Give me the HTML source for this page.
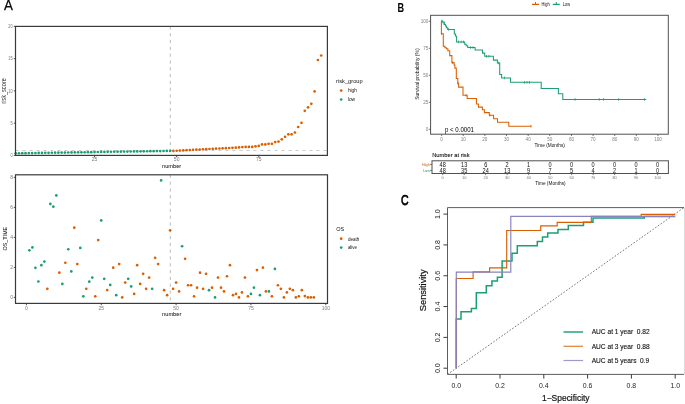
<!DOCTYPE html>
<html><head><meta charset="utf-8"><style>
html,body{margin:0;padding:0;background:#fff;width:685px;height:404px;overflow:hidden}
svg{display:block;font-family:"Liberation Sans", sans-serif;will-change:transform;filter:blur(0.35px)}
</style></head><body>
<svg width="685" height="404" viewBox="0 0 685 404">
<rect x="0" y="0" width="685" height="404" fill="#fff"/>
<text x="4.1" y="9.7" font-size="14.2" text-anchor="start" fill="#000" font-weight="normal" textLength="8.9" lengthAdjust="spacingAndGlyphs" stroke="#000" stroke-width="0.25">A</text>
<line x1="15.5" y1="150.5" x2="327.4" y2="150.5" stroke="#c4c4c4" stroke-width="0.9" stroke-dasharray="3,4"/>
<line x1="170.3" y1="26.4" x2="170.3" y2="155.4" stroke="#b4b4b4" stroke-width="0.9" stroke-dasharray="3.2,3.6"/>
<circle cx="15.69" cy="153.3" r="1.35" fill="#1B9E77"/>
<circle cx="18.97" cy="153.25" r="1.35" fill="#1B9E77"/>
<circle cx="22.26" cy="153.2" r="1.35" fill="#1B9E77"/>
<circle cx="25.54" cy="153.15" r="1.35" fill="#1B9E77"/>
<circle cx="28.83" cy="153.1" r="1.35" fill="#1B9E77"/>
<circle cx="32.11" cy="153.04" r="1.35" fill="#1B9E77"/>
<circle cx="35.4" cy="152.99" r="1.35" fill="#1B9E77"/>
<circle cx="38.68" cy="152.94" r="1.35" fill="#1B9E77"/>
<circle cx="41.97" cy="152.89" r="1.35" fill="#1B9E77"/>
<circle cx="45.25" cy="152.84" r="1.35" fill="#1B9E77"/>
<circle cx="48.54" cy="152.79" r="1.35" fill="#1B9E77"/>
<circle cx="51.82" cy="152.74" r="1.35" fill="#1B9E77"/>
<circle cx="55.1" cy="152.69" r="1.35" fill="#1B9E77"/>
<circle cx="58.39" cy="152.64" r="1.35" fill="#1B9E77"/>
<circle cx="61.68" cy="152.59" r="1.35" fill="#1B9E77"/>
<circle cx="64.96" cy="152.53" r="1.35" fill="#1B9E77"/>
<circle cx="68.25" cy="152.48" r="1.35" fill="#1B9E77"/>
<circle cx="71.53" cy="152.43" r="1.35" fill="#1B9E77"/>
<circle cx="74.82" cy="152.38" r="1.35" fill="#1B9E77"/>
<circle cx="78.1" cy="152.33" r="1.35" fill="#1B9E77"/>
<circle cx="81.39" cy="152.28" r="1.35" fill="#1B9E77"/>
<circle cx="84.67" cy="152.23" r="1.35" fill="#1B9E77"/>
<circle cx="87.96" cy="152.18" r="1.35" fill="#1B9E77"/>
<circle cx="91.24" cy="152.13" r="1.35" fill="#1B9E77"/>
<circle cx="94.53" cy="152.07" r="1.35" fill="#1B9E77"/>
<circle cx="97.81" cy="152.02" r="1.35" fill="#1B9E77"/>
<circle cx="101.1" cy="151.97" r="1.35" fill="#1B9E77"/>
<circle cx="104.38" cy="151.92" r="1.35" fill="#1B9E77"/>
<circle cx="107.67" cy="151.87" r="1.35" fill="#1B9E77"/>
<circle cx="110.95" cy="151.82" r="1.35" fill="#1B9E77"/>
<circle cx="114.24" cy="151.77" r="1.35" fill="#1B9E77"/>
<circle cx="117.52" cy="151.72" r="1.35" fill="#1B9E77"/>
<circle cx="120.81" cy="151.67" r="1.35" fill="#1B9E77"/>
<circle cx="124.09" cy="151.61" r="1.35" fill="#1B9E77"/>
<circle cx="127.38" cy="151.56" r="1.35" fill="#1B9E77"/>
<circle cx="130.66" cy="151.51" r="1.35" fill="#1B9E77"/>
<circle cx="133.94" cy="151.46" r="1.35" fill="#1B9E77"/>
<circle cx="137.23" cy="151.41" r="1.35" fill="#1B9E77"/>
<circle cx="140.52" cy="151.36" r="1.35" fill="#1B9E77"/>
<circle cx="143.8" cy="151.31" r="1.35" fill="#1B9E77"/>
<circle cx="147.09" cy="151.26" r="1.35" fill="#1B9E77"/>
<circle cx="150.37" cy="151.21" r="1.35" fill="#1B9E77"/>
<circle cx="153.66" cy="151.16" r="1.35" fill="#1B9E77"/>
<circle cx="156.94" cy="151.1" r="1.35" fill="#1B9E77"/>
<circle cx="160.23" cy="151.05" r="1.35" fill="#1B9E77"/>
<circle cx="163.51" cy="151" r="1.35" fill="#1B9E77"/>
<circle cx="166.8" cy="150.95" r="1.35" fill="#1B9E77"/>
<circle cx="170.08" cy="150.9" r="1.35" fill="#1B9E77"/>
<circle cx="173.37" cy="150.9" r="1.35" fill="#D95F02"/>
<circle cx="176.65" cy="150.73" r="1.35" fill="#D95F02"/>
<circle cx="179.94" cy="150.56" r="1.35" fill="#D95F02"/>
<circle cx="183.22" cy="150.39" r="1.35" fill="#D95F02"/>
<circle cx="186.51" cy="150.21" r="1.35" fill="#D95F02"/>
<circle cx="189.79" cy="150.04" r="1.35" fill="#D95F02"/>
<circle cx="193.08" cy="149.87" r="1.35" fill="#D95F02"/>
<circle cx="196.36" cy="149.7" r="1.35" fill="#D95F02"/>
<circle cx="199.65" cy="149.53" r="1.35" fill="#D95F02"/>
<circle cx="202.93" cy="149.36" r="1.35" fill="#D95F02"/>
<circle cx="206.22" cy="149.19" r="1.35" fill="#D95F02"/>
<circle cx="209.5" cy="149.01" r="1.35" fill="#D95F02"/>
<circle cx="212.79" cy="148.84" r="1.35" fill="#D95F02"/>
<circle cx="216.07" cy="148.67" r="1.35" fill="#D95F02"/>
<circle cx="219.36" cy="148.5" r="1.35" fill="#D95F02"/>
<circle cx="222.64" cy="148.33" r="1.35" fill="#D95F02"/>
<circle cx="225.93" cy="148.16" r="1.35" fill="#D95F02"/>
<circle cx="229.21" cy="147.99" r="1.35" fill="#D95F02"/>
<circle cx="232.5" cy="147.81" r="1.35" fill="#D95F02"/>
<circle cx="235.78" cy="147.64" r="1.35" fill="#D95F02"/>
<circle cx="239.07" cy="147.47" r="1.35" fill="#D95F02"/>
<circle cx="242.35" cy="147.1" r="1.35" fill="#D95F02"/>
<circle cx="245.64" cy="146.9" r="1.35" fill="#D95F02"/>
<circle cx="248.92" cy="146.9" r="1.35" fill="#D95F02"/>
<circle cx="252.21" cy="146.9" r="1.35" fill="#D95F02"/>
<circle cx="255.49" cy="146.3" r="1.35" fill="#D95F02"/>
<circle cx="258.77" cy="145.9" r="1.35" fill="#D95F02"/>
<circle cx="262.06" cy="144.4" r="1.35" fill="#D95F02"/>
<circle cx="265.35" cy="144.4" r="1.35" fill="#D95F02"/>
<circle cx="268.63" cy="143.8" r="1.35" fill="#D95F02"/>
<circle cx="271.91" cy="143.8" r="1.35" fill="#D95F02"/>
<circle cx="275.2" cy="142.1" r="1.35" fill="#D95F02"/>
<circle cx="278.49" cy="141.6" r="1.35" fill="#D95F02"/>
<circle cx="281.77" cy="139.3" r="1.35" fill="#D95F02"/>
<circle cx="285.06" cy="136.8" r="1.35" fill="#D95F02"/>
<circle cx="288.34" cy="134.3" r="1.35" fill="#D95F02"/>
<circle cx="291.62" cy="134.3" r="1.35" fill="#D95F02"/>
<circle cx="294.91" cy="132.5" r="1.35" fill="#D95F02"/>
<circle cx="298.19" cy="127" r="1.35" fill="#D95F02"/>
<circle cx="301.48" cy="122.8" r="1.35" fill="#D95F02"/>
<circle cx="304.76" cy="110.8" r="1.35" fill="#D95F02"/>
<circle cx="308.05" cy="107.3" r="1.35" fill="#D95F02"/>
<circle cx="311.33" cy="103.8" r="1.35" fill="#D95F02"/>
<circle cx="314.62" cy="91.4" r="1.35" fill="#D95F02"/>
<circle cx="317.9" cy="60" r="1.35" fill="#D95F02"/>
<circle cx="321.19" cy="55.5" r="1.35" fill="#D95F02"/>
<rect x="15.5" y="26.4" width="311.9" height="129" fill="none" stroke="#3a3a3a" stroke-width="1.2"/>
<line x1="13.8" y1="155.4" x2="15.5" y2="155.4" stroke="#3a3a3a" stroke-width="0.9"/>
<text x="12.7" y="157.2" font-size="5" text-anchor="end" fill="#7a7a7a" font-weight="normal" textLength="2.2" lengthAdjust="spacingAndGlyphs">0</text>
<line x1="13.8" y1="123.15" x2="15.5" y2="123.15" stroke="#3a3a3a" stroke-width="0.9"/>
<text x="12.7" y="124.95" font-size="5" text-anchor="end" fill="#7a7a7a" font-weight="normal" textLength="2.2" lengthAdjust="spacingAndGlyphs">5</text>
<line x1="13.8" y1="90.9" x2="15.5" y2="90.9" stroke="#3a3a3a" stroke-width="0.9"/>
<text x="12.7" y="92.7" font-size="5" text-anchor="end" fill="#7a7a7a" font-weight="normal" textLength="4.4" lengthAdjust="spacingAndGlyphs">10</text>
<line x1="13.8" y1="58.65" x2="15.5" y2="58.65" stroke="#3a3a3a" stroke-width="0.9"/>
<text x="12.7" y="60.45" font-size="5" text-anchor="end" fill="#7a7a7a" font-weight="normal" textLength="4.4" lengthAdjust="spacingAndGlyphs">15</text>
<line x1="13.8" y1="26.4" x2="15.5" y2="26.4" stroke="#3a3a3a" stroke-width="0.9"/>
<text x="12.7" y="28.2" font-size="5" text-anchor="end" fill="#7a7a7a" font-weight="normal" textLength="4.4" lengthAdjust="spacingAndGlyphs">20</text>
<line x1="94.53" y1="155.4" x2="94.53" y2="157.2" stroke="#3a3a3a" stroke-width="0.9"/>
<text x="94.53" y="161.3" font-size="5" text-anchor="middle" fill="#7a7a7a" font-weight="normal">25</text>
<line x1="176.65" y1="155.4" x2="176.65" y2="157.2" stroke="#3a3a3a" stroke-width="0.9"/>
<text x="176.65" y="161.3" font-size="5" text-anchor="middle" fill="#7a7a7a" font-weight="normal">50</text>
<line x1="258.77" y1="155.4" x2="258.77" y2="157.2" stroke="#3a3a3a" stroke-width="0.9"/>
<text x="258.77" y="161.3" font-size="5" text-anchor="middle" fill="#7a7a7a" font-weight="normal">75</text>
<text x="171.6" y="167.8" font-size="5.8" text-anchor="middle" fill="#222" font-weight="normal" textLength="19.2" lengthAdjust="spacingAndGlyphs" stroke="#222" stroke-width="0.05">number</text>
<text x="5.9" y="91" font-size="6.3" text-anchor="middle" fill="#222" font-weight="normal" transform="rotate(-90 5.9 91)" textLength="25.6" lengthAdjust="spacingAndGlyphs">risk_score</text>
<text x="336.1" y="83.1" font-size="5.8" text-anchor="start" fill="#111" font-weight="normal" textLength="26.6" lengthAdjust="spacingAndGlyphs">risk_group</text>
<circle cx="341.2" cy="90.6" r="1.35" fill="#D95F02"/>
<text x="347.9" y="92.4" font-size="4.9" text-anchor="start" fill="#111" font-weight="normal" textLength="9" lengthAdjust="spacingAndGlyphs">high</text>
<circle cx="341.2" cy="99.5" r="1.35" fill="#1B9E77"/>
<text x="347.9" y="100.9" font-size="4.9" text-anchor="start" fill="#111" font-weight="normal" textLength="7.2" lengthAdjust="spacingAndGlyphs">low</text>
<line x1="170.3" y1="174.8" x2="170.3" y2="303.4" stroke="#b4b4b4" stroke-width="0.9" stroke-dasharray="3.2,3.6"/>
<circle cx="29.39" cy="250.3" r="1.35" fill="#1B9E77"/>
<circle cx="32.39" cy="247.45" r="1.35" fill="#1B9E77"/>
<circle cx="35.38" cy="267.85" r="1.35" fill="#1B9E77"/>
<circle cx="38.38" cy="281.5" r="1.35" fill="#1B9E77"/>
<circle cx="41.37" cy="265.15" r="1.35" fill="#1B9E77"/>
<circle cx="44.36" cy="261.55" r="1.35" fill="#1B9E77"/>
<circle cx="47.36" cy="288.85" r="1.35" fill="#D95F02"/>
<circle cx="50.35" cy="203.95" r="1.35" fill="#1B9E77"/>
<circle cx="53.35" cy="206.65" r="1.35" fill="#1B9E77"/>
<circle cx="56.34" cy="195.4" r="1.35" fill="#1B9E77"/>
<circle cx="59.33" cy="272.65" r="1.35" fill="#D95F02"/>
<circle cx="62.33" cy="283.9" r="1.35" fill="#1B9E77"/>
<circle cx="65.32" cy="262.75" r="1.35" fill="#D95F02"/>
<circle cx="68.32" cy="249.25" r="1.35" fill="#1B9E77"/>
<circle cx="71.31" cy="271.45" r="1.35" fill="#1B9E77"/>
<circle cx="74.3" cy="227.65" r="1.35" fill="#D95F02"/>
<circle cx="77.3" cy="264.1" r="1.35" fill="#D95F02"/>
<circle cx="80.29" cy="247.9" r="1.35" fill="#1B9E77"/>
<circle cx="83.29" cy="296.35" r="1.35" fill="#1B9E77"/>
<circle cx="86.28" cy="288.85" r="1.35" fill="#D95F02"/>
<circle cx="89.27" cy="281.65" r="1.35" fill="#1B9E77"/>
<circle cx="92.27" cy="277.6" r="1.35" fill="#1B9E77"/>
<circle cx="95.26" cy="296.35" r="1.35" fill="#D95F02"/>
<circle cx="98.26" cy="240.1" r="1.35" fill="#D95F02"/>
<circle cx="101.25" cy="220.45" r="1.35" fill="#1B9E77"/>
<circle cx="104.24" cy="278.8" r="1.35" fill="#1B9E77"/>
<circle cx="107.24" cy="290.05" r="1.35" fill="#D95F02"/>
<circle cx="110.23" cy="284.95" r="1.35" fill="#1B9E77"/>
<circle cx="113.23" cy="267.7" r="1.35" fill="#D95F02"/>
<circle cx="116.22" cy="295.15" r="1.35" fill="#1B9E77"/>
<circle cx="119.21" cy="264.1" r="1.35" fill="#D95F02"/>
<circle cx="122.21" cy="297.4" r="1.35" fill="#D95F02"/>
<circle cx="125.2" cy="282.55" r="1.35" fill="#D95F02"/>
<circle cx="128.2" cy="278.8" r="1.35" fill="#1B9E77"/>
<circle cx="131.19" cy="286.45" r="1.35" fill="#1B9E77"/>
<circle cx="134.18" cy="293.95" r="1.35" fill="#D95F02"/>
<circle cx="137.18" cy="265.15" r="1.35" fill="#D95F02"/>
<circle cx="140.17" cy="283.9" r="1.35" fill="#D95F02"/>
<circle cx="143.17" cy="273.85" r="1.35" fill="#D95F02"/>
<circle cx="146.16" cy="288.85" r="1.35" fill="#D95F02"/>
<circle cx="149.15" cy="277.6" r="1.35" fill="#D95F02"/>
<circle cx="152.15" cy="288.85" r="1.35" fill="#1B9E77"/>
<circle cx="155.14" cy="257.8" r="1.35" fill="#D95F02"/>
<circle cx="158.14" cy="264.1" r="1.35" fill="#D95F02"/>
<circle cx="161.13" cy="180.4" r="1.35" fill="#1B9E77"/>
<circle cx="164.12" cy="290.2" r="1.35" fill="#D95F02"/>
<circle cx="167.12" cy="295.15" r="1.35" fill="#D95F02"/>
<circle cx="170.11" cy="230.35" r="1.35" fill="#D95F02"/>
<circle cx="173.11" cy="288.85" r="1.35" fill="#D95F02"/>
<circle cx="176.1" cy="282.55" r="1.35" fill="#D95F02"/>
<circle cx="179.09" cy="291.4" r="1.35" fill="#D95F02"/>
<circle cx="182.09" cy="246.25" r="1.35" fill="#1B9E77"/>
<circle cx="185.08" cy="258.85" r="1.35" fill="#D95F02"/>
<circle cx="188.08" cy="285.25" r="1.35" fill="#D95F02"/>
<circle cx="191.07" cy="285.25" r="1.35" fill="#D95F02"/>
<circle cx="194.06" cy="296.35" r="1.35" fill="#D95F02"/>
<circle cx="197.06" cy="287.65" r="1.35" fill="#D95F02"/>
<circle cx="200.05" cy="272.65" r="1.35" fill="#D95F02"/>
<circle cx="203.05" cy="288.85" r="1.35" fill="#D95F02"/>
<circle cx="206.04" cy="273.85" r="1.35" fill="#D95F02"/>
<circle cx="209.03" cy="290.2" r="1.35" fill="#1B9E77"/>
<circle cx="212.03" cy="287.65" r="1.35" fill="#D95F02"/>
<circle cx="215.02" cy="297.4" r="1.35" fill="#1B9E77"/>
<circle cx="218.02" cy="277.6" r="1.35" fill="#D95F02"/>
<circle cx="221.01" cy="287.65" r="1.35" fill="#D95F02"/>
<circle cx="224" cy="291.4" r="1.35" fill="#D95F02"/>
<circle cx="227" cy="276.25" r="1.35" fill="#D95F02"/>
<circle cx="229.99" cy="265.15" r="1.35" fill="#D95F02"/>
<circle cx="232.99" cy="295.15" r="1.35" fill="#D95F02"/>
<circle cx="235.98" cy="293.95" r="1.35" fill="#D95F02"/>
<circle cx="238.97" cy="297.4" r="1.35" fill="#D95F02"/>
<circle cx="241.97" cy="292.45" r="1.35" fill="#D95F02"/>
<circle cx="244.96" cy="277.6" r="1.35" fill="#D95F02"/>
<circle cx="247.96" cy="296.35" r="1.35" fill="#D95F02"/>
<circle cx="250.95" cy="293.95" r="1.35" fill="#1B9E77"/>
<circle cx="253.94" cy="287.65" r="1.35" fill="#1B9E77"/>
<circle cx="256.94" cy="270.1" r="1.35" fill="#D95F02"/>
<circle cx="259.93" cy="295.15" r="1.35" fill="#1B9E77"/>
<circle cx="262.93" cy="267.7" r="1.35" fill="#D95F02"/>
<circle cx="265.92" cy="291.4" r="1.35" fill="#D95F02"/>
<circle cx="268.91" cy="291.4" r="1.35" fill="#1B9E77"/>
<circle cx="271.91" cy="296.35" r="1.35" fill="#D95F02"/>
<circle cx="274.9" cy="268.9" r="1.35" fill="#1B9E77"/>
<circle cx="277.9" cy="285.25" r="1.35" fill="#D95F02"/>
<circle cx="280.89" cy="288.85" r="1.35" fill="#D95F02"/>
<circle cx="283.88" cy="297.4" r="1.35" fill="#D95F02"/>
<circle cx="286.88" cy="292.45" r="1.35" fill="#D95F02"/>
<circle cx="289.87" cy="288.85" r="1.35" fill="#D95F02"/>
<circle cx="292.87" cy="290.2" r="1.35" fill="#D95F02"/>
<circle cx="295.86" cy="297.4" r="1.35" fill="#D95F02"/>
<circle cx="298.85" cy="296.35" r="1.35" fill="#D95F02"/>
<circle cx="301.85" cy="290.2" r="1.35" fill="#D95F02"/>
<circle cx="304.84" cy="296.05" r="1.35" fill="#D95F02"/>
<circle cx="307.84" cy="297.4" r="1.35" fill="#D95F02"/>
<circle cx="310.83" cy="297.4" r="1.35" fill="#D95F02"/>
<circle cx="313.82" cy="297.4" r="1.35" fill="#D95F02"/>
<rect x="15.5" y="174.8" width="312" height="128.6" fill="none" stroke="#3a3a3a" stroke-width="1.2"/>
<line x1="13.8" y1="297.4" x2="15.5" y2="297.4" stroke="#3a3a3a" stroke-width="0.9"/>
<text x="13" y="299.2" font-size="5" text-anchor="end" fill="#7a7a7a" font-weight="normal">0</text>
<line x1="13.8" y1="267.4" x2="15.5" y2="267.4" stroke="#3a3a3a" stroke-width="0.9"/>
<text x="13" y="269.2" font-size="5" text-anchor="end" fill="#7a7a7a" font-weight="normal">2</text>
<line x1="13.8" y1="237.4" x2="15.5" y2="237.4" stroke="#3a3a3a" stroke-width="0.9"/>
<text x="13" y="239.2" font-size="5" text-anchor="end" fill="#7a7a7a" font-weight="normal">4</text>
<line x1="13.8" y1="207.4" x2="15.5" y2="207.4" stroke="#3a3a3a" stroke-width="0.9"/>
<text x="13" y="209.2" font-size="5" text-anchor="end" fill="#7a7a7a" font-weight="normal">6</text>
<line x1="13.8" y1="177.4" x2="15.5" y2="177.4" stroke="#3a3a3a" stroke-width="0.9"/>
<text x="13" y="179.2" font-size="5" text-anchor="end" fill="#7a7a7a" font-weight="normal">8</text>
<line x1="26.4" y1="303.4" x2="26.4" y2="305.2" stroke="#3a3a3a" stroke-width="0.9"/>
<text x="26.4" y="309.5" font-size="5" text-anchor="middle" fill="#7a7a7a" font-weight="normal">0</text>
<line x1="101.25" y1="303.4" x2="101.25" y2="305.2" stroke="#3a3a3a" stroke-width="0.9"/>
<text x="101.25" y="309.5" font-size="5" text-anchor="middle" fill="#7a7a7a" font-weight="normal">25</text>
<line x1="176.1" y1="303.4" x2="176.1" y2="305.2" stroke="#3a3a3a" stroke-width="0.9"/>
<text x="176.1" y="309.5" font-size="5" text-anchor="middle" fill="#7a7a7a" font-weight="normal">50</text>
<line x1="250.95" y1="303.4" x2="250.95" y2="305.2" stroke="#3a3a3a" stroke-width="0.9"/>
<text x="250.95" y="309.5" font-size="5" text-anchor="middle" fill="#7a7a7a" font-weight="normal">75</text>
<line x1="325.8" y1="303.4" x2="325.8" y2="305.2" stroke="#3a3a3a" stroke-width="0.9"/>
<text x="325.8" y="309.5" font-size="5" text-anchor="middle" fill="#7a7a7a" font-weight="normal">100</text>
<text x="171.7" y="316" font-size="5.8" text-anchor="middle" fill="#222" font-weight="normal" textLength="19.2" lengthAdjust="spacingAndGlyphs" stroke="#222" stroke-width="0.05">number</text>
<text x="7.4" y="238.6" font-size="5.6" text-anchor="middle" fill="#222" font-weight="normal" transform="rotate(-90 7.4 238.6)" textLength="23.6" lengthAdjust="spacingAndGlyphs" stroke="#222" stroke-width="0.05">OS_TIME</text>
<text x="336.2" y="230.9" font-size="5.8" text-anchor="start" fill="#111" font-weight="normal" textLength="8" lengthAdjust="spacingAndGlyphs">OS</text>
<circle cx="341.2" cy="238.7" r="1.35" fill="#D95F02"/>
<text x="347.9" y="240.6" font-size="4.9" text-anchor="start" fill="#111" font-weight="normal" textLength="11.4" lengthAdjust="spacingAndGlyphs">death</text>
<circle cx="341.2" cy="247.6" r="1.35" fill="#1B9E77"/>
<text x="347.9" y="249.1" font-size="4.9" text-anchor="start" fill="#111" font-weight="normal" textLength="9.1" lengthAdjust="spacingAndGlyphs">alive</text>
<text x="397.6" y="11.9" font-size="13" text-anchor="start" fill="#000" font-weight="bold" textLength="6.6" lengthAdjust="spacingAndGlyphs">B</text>
<line x1="532" y1="4.4" x2="539.1" y2="4.4" stroke="#D95F02" stroke-width="1.3"/>
<line x1="535.5" y1="2" x2="535.5" y2="5" stroke="#D95F02" stroke-width="1"/>
<text x="541.6" y="6.1" font-size="4.8" text-anchor="start" fill="#111" font-weight="normal" textLength="8.2" lengthAdjust="spacingAndGlyphs">High</text>
<line x1="552.8" y1="4.4" x2="559.8" y2="4.4" stroke="#1B9E77" stroke-width="1.3"/>
<line x1="556.3" y1="2" x2="556.3" y2="5" stroke="#1B9E77" stroke-width="1"/>
<text x="562.8" y="6.1" font-size="4.8" text-anchor="start" fill="#111" font-weight="normal" textLength="7.2" lengthAdjust="spacingAndGlyphs">Low</text>
<polyline points="441.4,21.1 441.4,33.8 443.3,33.8 443.3,46.2 444.9,46.2 444.9,47.7 446.4,47.7 446.4,48.7 447.9,48.7 447.9,50.7 449.7,50.7 449.7,55.6 451.9,55.6 451.9,62.6 454.1,62.6 454.1,64.9 454.9,64.9 454.9,68.1 456.3,68.1 456.3,78.5 457.8,78.5 457.8,83.4 458.6,83.4 458.6,87.1 463,87.1 463,95.3 467.2,95.3 467.2,98.5 476.4,98.5 476.4,103.9 478.4,103.9 478.4,107.1 482.4,107.1 482.4,109.7 484.4,109.7 484.4,112.6 489.3,112.6 489.3,115.3 493.6,115.3 493.6,118.8 497.5,118.8 497.5,122.2 508.8,122.2 508.8,126.2 531.3,126.2" fill="none" stroke="#D95F02" stroke-width="1.05"/>
<polyline points="441.4,21.1 442.9,21.1 442.9,22.7 444.1,22.7 444.1,24.4 445.4,24.4 445.4,25.9 446.4,25.9 446.4,27.7 447.7,27.7 447.7,29.4 454.3,29.4 454.3,34 455.6,34 455.6,36.3 456.6,36.3 456.6,41.9 464.7,41.9 464.7,44.2 466.2,44.2 466.2,45.7 467.7,45.7 467.7,47.5 475.1,47.5 475.1,49.9 482.5,49.9 482.5,53.1 484.7,53.1 484.7,56.3 493.4,56.3 493.4,60.1 497.4,60.1 497.4,63 499.7,63 499.7,74.5 501.6,74.5 501.6,77.9 510.5,77.9 510.5,82.3 541.2,82.3 541.2,88.4 558.4,88.4 558.4,93.7 562.8,93.7 562.8,99.4 646.3,99.4" fill="none" stroke="#1B9E77" stroke-width="1.05"/>
<line x1="441.8" y1="19.8" x2="441.8" y2="22.4" stroke="#1B9E77" stroke-width="0.8"/>
<line x1="444.6" y1="21.4" x2="444.6" y2="24" stroke="#1B9E77" stroke-width="0.8"/>
<line x1="448.6" y1="28.1" x2="448.6" y2="30.7" stroke="#1B9E77" stroke-width="0.8"/>
<line x1="458.5" y1="40.6" x2="458.5" y2="43.2" stroke="#1B9E77" stroke-width="0.8"/>
<line x1="461.2" y1="40.6" x2="461.2" y2="43.2" stroke="#1B9E77" stroke-width="0.8"/>
<line x1="463.5" y1="40.6" x2="463.5" y2="43.2" stroke="#1B9E77" stroke-width="0.8"/>
<line x1="470.5" y1="46.2" x2="470.5" y2="48.8" stroke="#1B9E77" stroke-width="0.8"/>
<line x1="473" y1="46.2" x2="473" y2="48.8" stroke="#1B9E77" stroke-width="0.8"/>
<line x1="486.5" y1="55" x2="486.5" y2="57.6" stroke="#1B9E77" stroke-width="0.8"/>
<line x1="488.9" y1="55" x2="488.9" y2="57.6" stroke="#1B9E77" stroke-width="0.8"/>
<line x1="498.6" y1="61.7" x2="498.6" y2="64.3" stroke="#1B9E77" stroke-width="0.8"/>
<line x1="504.5" y1="76.6" x2="504.5" y2="79.2" stroke="#1B9E77" stroke-width="0.8"/>
<line x1="524.5" y1="81" x2="524.5" y2="83.6" stroke="#1B9E77" stroke-width="0.8"/>
<line x1="527" y1="81" x2="527" y2="83.6" stroke="#1B9E77" stroke-width="0.8"/>
<line x1="529.5" y1="81" x2="529.5" y2="83.6" stroke="#1B9E77" stroke-width="0.8"/>
<line x1="575.1" y1="98.1" x2="575.1" y2="100.7" stroke="#1B9E77" stroke-width="0.8"/>
<line x1="599.2" y1="98.1" x2="599.2" y2="100.7" stroke="#1B9E77" stroke-width="0.8"/>
<line x1="603.6" y1="98.1" x2="603.6" y2="100.7" stroke="#1B9E77" stroke-width="0.8"/>
<line x1="618.7" y1="98.1" x2="618.7" y2="100.7" stroke="#1B9E77" stroke-width="0.8"/>
<line x1="644.4" y1="98.1" x2="644.4" y2="100.7" stroke="#1B9E77" stroke-width="0.8"/>
<line x1="441.6" y1="32.5" x2="441.6" y2="35.1" stroke="#D95F02" stroke-width="0.8"/>
<line x1="452.5" y1="61.3" x2="452.5" y2="63.9" stroke="#D95F02" stroke-width="0.8"/>
<line x1="458" y1="82.1" x2="458" y2="84.7" stroke="#D95F02" stroke-width="0.8"/>
<line x1="466" y1="94" x2="466" y2="96.6" stroke="#D95F02" stroke-width="0.8"/>
<line x1="489.8" y1="114" x2="489.8" y2="116.6" stroke="#D95F02" stroke-width="0.8"/>
<line x1="531" y1="124.9" x2="531" y2="127.5" stroke="#D95F02" stroke-width="0.8"/>
<rect x="430.6" y="15.3" width="237.7" height="118.9" fill="none" stroke="#505050" stroke-width="1"/>
<line x1="428.8" y1="129.3" x2="430.6" y2="129.3" stroke="#505050" stroke-width="0.8"/>
<text x="428.4" y="131" font-size="4.6" text-anchor="end" fill="#808080" font-weight="normal">0</text>
<line x1="428.8" y1="102.3" x2="430.6" y2="102.3" stroke="#505050" stroke-width="0.8"/>
<text x="428.4" y="104" font-size="4.6" text-anchor="end" fill="#808080" font-weight="normal">25</text>
<line x1="428.8" y1="75.3" x2="430.6" y2="75.3" stroke="#505050" stroke-width="0.8"/>
<text x="428.4" y="77" font-size="4.6" text-anchor="end" fill="#808080" font-weight="normal">50</text>
<line x1="428.8" y1="48.3" x2="430.6" y2="48.3" stroke="#505050" stroke-width="0.8"/>
<text x="428.4" y="50" font-size="4.6" text-anchor="end" fill="#808080" font-weight="normal">75</text>
<line x1="428.8" y1="21.3" x2="430.6" y2="21.3" stroke="#505050" stroke-width="0.8"/>
<text x="428.4" y="23" font-size="4.6" text-anchor="end" fill="#808080" font-weight="normal">100</text>
<line x1="441.6" y1="134.2" x2="441.6" y2="136" stroke="#505050" stroke-width="0.8"/>
<text x="441.6" y="141.1" font-size="4.6" text-anchor="middle" fill="#808080" font-weight="normal">0</text>
<line x1="463.24" y1="134.2" x2="463.24" y2="136" stroke="#505050" stroke-width="0.8"/>
<text x="463.24" y="141.1" font-size="4.6" text-anchor="middle" fill="#808080" font-weight="normal">10</text>
<line x1="484.88" y1="134.2" x2="484.88" y2="136" stroke="#505050" stroke-width="0.8"/>
<text x="484.88" y="141.1" font-size="4.6" text-anchor="middle" fill="#808080" font-weight="normal">20</text>
<line x1="506.52" y1="134.2" x2="506.52" y2="136" stroke="#505050" stroke-width="0.8"/>
<text x="506.52" y="141.1" font-size="4.6" text-anchor="middle" fill="#808080" font-weight="normal">30</text>
<line x1="528.16" y1="134.2" x2="528.16" y2="136" stroke="#505050" stroke-width="0.8"/>
<text x="528.16" y="141.1" font-size="4.6" text-anchor="middle" fill="#808080" font-weight="normal">40</text>
<line x1="549.8" y1="134.2" x2="549.8" y2="136" stroke="#505050" stroke-width="0.8"/>
<text x="549.8" y="141.1" font-size="4.6" text-anchor="middle" fill="#808080" font-weight="normal">50</text>
<line x1="571.44" y1="134.2" x2="571.44" y2="136" stroke="#505050" stroke-width="0.8"/>
<text x="571.44" y="141.1" font-size="4.6" text-anchor="middle" fill="#808080" font-weight="normal">60</text>
<line x1="593.08" y1="134.2" x2="593.08" y2="136" stroke="#505050" stroke-width="0.8"/>
<text x="593.08" y="141.1" font-size="4.6" text-anchor="middle" fill="#808080" font-weight="normal">70</text>
<line x1="614.72" y1="134.2" x2="614.72" y2="136" stroke="#505050" stroke-width="0.8"/>
<text x="614.72" y="141.1" font-size="4.6" text-anchor="middle" fill="#808080" font-weight="normal">80</text>
<line x1="636.36" y1="134.2" x2="636.36" y2="136" stroke="#505050" stroke-width="0.8"/>
<text x="636.36" y="141.1" font-size="4.6" text-anchor="middle" fill="#808080" font-weight="normal">90</text>
<line x1="658" y1="134.2" x2="658" y2="136" stroke="#505050" stroke-width="0.8"/>
<text x="658" y="141.1" font-size="4.6" text-anchor="middle" fill="#808080" font-weight="normal">100</text>
<text x="418.6" y="74.1" font-size="5.1" text-anchor="middle" fill="#111" font-weight="normal" transform="rotate(-90 418.6 74.1)" textLength="51.5" lengthAdjust="spacingAndGlyphs">Survival probability (%)</text>
<text x="549.7" y="147.1" font-size="4.9" text-anchor="middle" fill="#111" font-weight="normal" textLength="30.4" lengthAdjust="spacingAndGlyphs">Time (Months)</text>
<text x="445" y="131.8" font-size="7.4" text-anchor="start" fill="#000" font-weight="normal" textLength="29" lengthAdjust="spacingAndGlyphs">p &lt; 0.0001</text>
<text x="432.2" y="157.3" font-size="5.9" text-anchor="start" fill="#111" font-weight="normal" textLength="37.4" lengthAdjust="spacingAndGlyphs" stroke="#111" stroke-width="0.1">Number at risk</text>
<rect x="432" y="160.8" width="236.4" height="12.7" fill="none" stroke="#505050" stroke-width="1"/>
<line x1="430.2" y1="164.4" x2="432" y2="164.4" stroke="#505050" stroke-width="0.8"/>
<line x1="430.2" y1="170.4" x2="432" y2="170.4" stroke="#505050" stroke-width="0.8"/>
<text x="429.9" y="166" font-size="4" text-anchor="end" fill="#D95F02" font-weight="normal" textLength="8" lengthAdjust="spacingAndGlyphs">High</text>
<text x="429.9" y="171.9" font-size="4" text-anchor="end" fill="#1B9E77" font-weight="normal" textLength="7" lengthAdjust="spacingAndGlyphs">Low</text>
<text x="442.7" y="166.7" font-size="6.6" text-anchor="middle" fill="#111" font-weight="normal" textLength="6.2" lengthAdjust="spacingAndGlyphs">48</text>
<text x="442.7" y="172.6" font-size="6.6" text-anchor="middle" fill="#111" font-weight="normal" textLength="6.2" lengthAdjust="spacingAndGlyphs">48</text>
<line x1="442.7" y1="173.5" x2="442.7" y2="175.1" stroke="#505050" stroke-width="0.8"/>
<text x="442.7" y="178.6" font-size="4" text-anchor="middle" fill="#777" font-weight="normal">0</text>
<text x="464.19" y="166.7" font-size="6.6" text-anchor="middle" fill="#111" font-weight="normal" textLength="6.2" lengthAdjust="spacingAndGlyphs">13</text>
<text x="464.19" y="172.6" font-size="6.6" text-anchor="middle" fill="#111" font-weight="normal" textLength="6.2" lengthAdjust="spacingAndGlyphs">35</text>
<line x1="464.19" y1="173.5" x2="464.19" y2="175.1" stroke="#505050" stroke-width="0.8"/>
<text x="464.19" y="178.6" font-size="4" text-anchor="middle" fill="#777" font-weight="normal">10</text>
<text x="485.68" y="166.7" font-size="6.6" text-anchor="middle" fill="#111" font-weight="normal" textLength="3.1" lengthAdjust="spacingAndGlyphs">6</text>
<text x="485.68" y="172.6" font-size="6.6" text-anchor="middle" fill="#111" font-weight="normal" textLength="6.2" lengthAdjust="spacingAndGlyphs">24</text>
<line x1="485.68" y1="173.5" x2="485.68" y2="175.1" stroke="#505050" stroke-width="0.8"/>
<text x="485.68" y="178.6" font-size="4" text-anchor="middle" fill="#777" font-weight="normal">20</text>
<text x="507.17" y="166.7" font-size="6.6" text-anchor="middle" fill="#111" font-weight="normal" textLength="3.1" lengthAdjust="spacingAndGlyphs">2</text>
<text x="507.17" y="172.6" font-size="6.6" text-anchor="middle" fill="#111" font-weight="normal" textLength="6.2" lengthAdjust="spacingAndGlyphs">13</text>
<line x1="507.17" y1="173.5" x2="507.17" y2="175.1" stroke="#505050" stroke-width="0.8"/>
<text x="507.17" y="178.6" font-size="4" text-anchor="middle" fill="#777" font-weight="normal">30</text>
<text x="528.66" y="166.7" font-size="6.6" text-anchor="middle" fill="#111" font-weight="normal" textLength="3.1" lengthAdjust="spacingAndGlyphs">1</text>
<text x="528.66" y="172.6" font-size="6.6" text-anchor="middle" fill="#111" font-weight="normal" textLength="3.1" lengthAdjust="spacingAndGlyphs">9</text>
<line x1="528.66" y1="173.5" x2="528.66" y2="175.1" stroke="#505050" stroke-width="0.8"/>
<text x="528.66" y="178.6" font-size="4" text-anchor="middle" fill="#777" font-weight="normal">40</text>
<text x="550.15" y="166.7" font-size="6.6" text-anchor="middle" fill="#111" font-weight="normal" textLength="3.1" lengthAdjust="spacingAndGlyphs">0</text>
<text x="550.15" y="172.6" font-size="6.6" text-anchor="middle" fill="#111" font-weight="normal" textLength="3.1" lengthAdjust="spacingAndGlyphs">7</text>
<line x1="550.15" y1="173.5" x2="550.15" y2="175.1" stroke="#505050" stroke-width="0.8"/>
<text x="550.15" y="178.6" font-size="4" text-anchor="middle" fill="#777" font-weight="normal">50</text>
<text x="571.64" y="166.7" font-size="6.6" text-anchor="middle" fill="#111" font-weight="normal" textLength="3.1" lengthAdjust="spacingAndGlyphs">0</text>
<text x="571.64" y="172.6" font-size="6.6" text-anchor="middle" fill="#111" font-weight="normal" textLength="3.1" lengthAdjust="spacingAndGlyphs">5</text>
<line x1="571.64" y1="173.5" x2="571.64" y2="175.1" stroke="#505050" stroke-width="0.8"/>
<text x="571.64" y="178.6" font-size="4" text-anchor="middle" fill="#777" font-weight="normal">60</text>
<text x="593.13" y="166.7" font-size="6.6" text-anchor="middle" fill="#111" font-weight="normal" textLength="3.1" lengthAdjust="spacingAndGlyphs">0</text>
<text x="593.13" y="172.6" font-size="6.6" text-anchor="middle" fill="#111" font-weight="normal" textLength="3.1" lengthAdjust="spacingAndGlyphs">4</text>
<line x1="593.13" y1="173.5" x2="593.13" y2="175.1" stroke="#505050" stroke-width="0.8"/>
<text x="593.13" y="178.6" font-size="4" text-anchor="middle" fill="#777" font-weight="normal">70</text>
<text x="614.62" y="166.7" font-size="6.6" text-anchor="middle" fill="#111" font-weight="normal" textLength="3.1" lengthAdjust="spacingAndGlyphs">0</text>
<text x="614.62" y="172.6" font-size="6.6" text-anchor="middle" fill="#111" font-weight="normal" textLength="3.1" lengthAdjust="spacingAndGlyphs">2</text>
<line x1="614.62" y1="173.5" x2="614.62" y2="175.1" stroke="#505050" stroke-width="0.8"/>
<text x="614.62" y="178.6" font-size="4" text-anchor="middle" fill="#777" font-weight="normal">80</text>
<text x="636.11" y="166.7" font-size="6.6" text-anchor="middle" fill="#111" font-weight="normal" textLength="3.1" lengthAdjust="spacingAndGlyphs">0</text>
<text x="636.11" y="172.6" font-size="6.6" text-anchor="middle" fill="#111" font-weight="normal" textLength="3.1" lengthAdjust="spacingAndGlyphs">1</text>
<line x1="636.11" y1="173.5" x2="636.11" y2="175.1" stroke="#505050" stroke-width="0.8"/>
<text x="636.11" y="178.6" font-size="4" text-anchor="middle" fill="#777" font-weight="normal">90</text>
<text x="657.6" y="166.7" font-size="6.6" text-anchor="middle" fill="#111" font-weight="normal" textLength="3.1" lengthAdjust="spacingAndGlyphs">0</text>
<text x="657.6" y="172.6" font-size="6.6" text-anchor="middle" fill="#111" font-weight="normal" textLength="3.1" lengthAdjust="spacingAndGlyphs">0</text>
<line x1="657.6" y1="173.5" x2="657.6" y2="175.1" stroke="#505050" stroke-width="0.8"/>
<text x="657.6" y="178.6" font-size="4" text-anchor="middle" fill="#777" font-weight="normal">100</text>
<text x="550.4" y="185" font-size="4.9" text-anchor="middle" fill="#111" font-weight="normal" textLength="30.4" lengthAdjust="spacingAndGlyphs">Time (Months)</text>
<text x="400.9" y="205.4" font-size="15.2" text-anchor="start" fill="#000" font-weight="normal" textLength="7.6" lengthAdjust="spacingAndGlyphs" stroke="#000" stroke-width="0.75">C</text>
<line x1="447.5" y1="374.4" x2="684" y2="207.6" stroke="#505050" stroke-width="0.8" stroke-dasharray="1.6,1.7"/>
<polyline points="456.3,368.2 456.3,319.1 461,319.1 461,311.7 471.4,311.7 471.4,308.4 476.3,308.4 476.3,292.8 486.3,292.8 486.3,285.7 491.9,285.7 491.9,281 497.4,281 497.4,277.2 502.1,277.2 502.1,260.9 512,260.9 512,253.2 517.3,253.2 517.3,245.7 537.3,245.7 537.3,241.4 542.5,241.4 542.5,237.1 547.7,237.1 547.7,233.1 558,233.1 558,229.6 568.3,229.6 568.3,225.6 583.5,225.6 583.5,222.3 593,222.3 593,217.9 644.3,217.9 644.3,216.5 675.2,216.5" fill="none" stroke="#1B9E77" stroke-width="1.5"/>
<polyline points="456.3,368.2 456.3,278.5 473.1,278.5 473.1,271.8 489.6,271.8 489.6,267.8 506.7,267.8 506.7,230.5 540.7,230.5 540.7,225.8 557.2,225.8 557.2,222.4 591.3,222.4 591.3,216.3 641.2,216.3 641.2,214.3 675.2,214.3" fill="none" stroke="#D95F02" stroke-width="1.15"/>
<polyline points="456.3,368.2 456.3,272.1 510.8,272.1 510.8,216.3 675.2,216.3" fill="none" stroke="#8783c0" stroke-width="1.15"/>
<line x1="447.5" y1="207.6" x2="684" y2="207.6" stroke="#555" stroke-width="0.95"/>
<line x1="447.5" y1="374.4" x2="684" y2="374.4" stroke="#555" stroke-width="0.95"/>
<line x1="447.5" y1="207.6" x2="447.5" y2="374.4" stroke="#555" stroke-width="0.95"/>
<line x1="684.6" y1="207.6" x2="684.6" y2="374.4" stroke="#d8d8d8" stroke-width="1"/>
<line x1="443.5" y1="368.2" x2="447.5" y2="368.2" stroke="#3a3a3a" stroke-width="1"/>
<text x="439.7" y="368.2" font-size="7.6" text-anchor="middle" fill="#222" font-weight="normal" transform="rotate(-90 439.7 368.2)" textLength="9.8" lengthAdjust="spacingAndGlyphs">0.0</text>
<line x1="456.2" y1="374.4" x2="456.2" y2="378.6" stroke="#3a3a3a" stroke-width="1"/>
<text x="456.2" y="387.8" font-size="7.6" text-anchor="middle" fill="#222" font-weight="normal" textLength="9.6" lengthAdjust="spacingAndGlyphs">0.0</text>
<line x1="443.5" y1="337.38" x2="447.5" y2="337.38" stroke="#3a3a3a" stroke-width="1"/>
<text x="439.7" y="337.38" font-size="7.6" text-anchor="middle" fill="#222" font-weight="normal" transform="rotate(-90 439.7 337.38)" textLength="9.8" lengthAdjust="spacingAndGlyphs">0.2</text>
<line x1="500" y1="374.4" x2="500" y2="378.6" stroke="#3a3a3a" stroke-width="1"/>
<text x="500" y="387.8" font-size="7.6" text-anchor="middle" fill="#222" font-weight="normal" textLength="9.6" lengthAdjust="spacingAndGlyphs">0.2</text>
<line x1="443.5" y1="306.56" x2="447.5" y2="306.56" stroke="#3a3a3a" stroke-width="1"/>
<text x="439.7" y="306.56" font-size="7.6" text-anchor="middle" fill="#222" font-weight="normal" transform="rotate(-90 439.7 306.56)" textLength="9.8" lengthAdjust="spacingAndGlyphs">0.4</text>
<line x1="543.8" y1="374.4" x2="543.8" y2="378.6" stroke="#3a3a3a" stroke-width="1"/>
<text x="543.8" y="387.8" font-size="7.6" text-anchor="middle" fill="#222" font-weight="normal" textLength="9.6" lengthAdjust="spacingAndGlyphs">0.4</text>
<line x1="443.5" y1="275.74" x2="447.5" y2="275.74" stroke="#3a3a3a" stroke-width="1"/>
<text x="439.7" y="275.74" font-size="7.6" text-anchor="middle" fill="#222" font-weight="normal" transform="rotate(-90 439.7 275.74)" textLength="9.8" lengthAdjust="spacingAndGlyphs">0.6</text>
<line x1="587.6" y1="374.4" x2="587.6" y2="378.6" stroke="#3a3a3a" stroke-width="1"/>
<text x="587.6" y="387.8" font-size="7.6" text-anchor="middle" fill="#222" font-weight="normal" textLength="9.6" lengthAdjust="spacingAndGlyphs">0.6</text>
<line x1="443.5" y1="244.92" x2="447.5" y2="244.92" stroke="#3a3a3a" stroke-width="1"/>
<text x="439.7" y="244.92" font-size="7.6" text-anchor="middle" fill="#222" font-weight="normal" transform="rotate(-90 439.7 244.92)" textLength="9.8" lengthAdjust="spacingAndGlyphs">0.8</text>
<line x1="631.4" y1="374.4" x2="631.4" y2="378.6" stroke="#3a3a3a" stroke-width="1"/>
<text x="631.4" y="387.8" font-size="7.6" text-anchor="middle" fill="#222" font-weight="normal" textLength="9.6" lengthAdjust="spacingAndGlyphs">0.8</text>
<line x1="443.5" y1="214.1" x2="447.5" y2="214.1" stroke="#3a3a3a" stroke-width="1"/>
<text x="439.7" y="214.1" font-size="7.6" text-anchor="middle" fill="#222" font-weight="normal" transform="rotate(-90 439.7 214.1)" textLength="9.8" lengthAdjust="spacingAndGlyphs">1.0</text>
<line x1="675.2" y1="374.4" x2="675.2" y2="378.6" stroke="#3a3a3a" stroke-width="1"/>
<text x="675.2" y="387.8" font-size="7.6" text-anchor="middle" fill="#222" font-weight="normal" textLength="9.6" lengthAdjust="spacingAndGlyphs">1.0</text>
<text x="425.9" y="290.3" font-size="9.3" text-anchor="middle" fill="#111" font-weight="normal" transform="rotate(-90 425.9 290.3)" textLength="41.8" lengthAdjust="spacingAndGlyphs" stroke="#111" stroke-width="0.2">Sensitivity</text>
<text x="565.8" y="401" font-size="8.8" text-anchor="middle" fill="#111" font-weight="normal" textLength="47.6" lengthAdjust="spacingAndGlyphs" stroke="#111" stroke-width="0.2">1&#8722;Specificity</text>
<line x1="563.5" y1="332" x2="583.1" y2="332" stroke="#1B9E77" stroke-width="1.8" stroke-opacity="0.8"/>
<line x1="563.5" y1="346.3" x2="583.1" y2="346.3" stroke="#D95F02" stroke-width="1.2" stroke-opacity="0.8"/>
<line x1="563.5" y1="360.5" x2="583.1" y2="360.5" stroke="#7570B3" stroke-width="1.2" stroke-opacity="0.7"/>
<text x="591.7" y="334.4" font-size="7.4" text-anchor="start" fill="#111" font-weight="normal" textLength="58" lengthAdjust="spacingAndGlyphs" stroke="#111" stroke-width="0.12">AUC at 1 year&#160; 0.82</text>
<text x="591.7" y="348.6" font-size="7.4" text-anchor="start" fill="#111" font-weight="normal" textLength="58" lengthAdjust="spacingAndGlyphs" stroke="#111" stroke-width="0.12">AUC at 3 year&#160; 0.88</text>
<text x="591.7" y="362.7" font-size="7.4" text-anchor="start" fill="#111" font-weight="normal" textLength="57.6" lengthAdjust="spacingAndGlyphs" stroke="#111" stroke-width="0.12">AUC at 5 years&#160; 0.9</text>
</svg>
</body></html>
